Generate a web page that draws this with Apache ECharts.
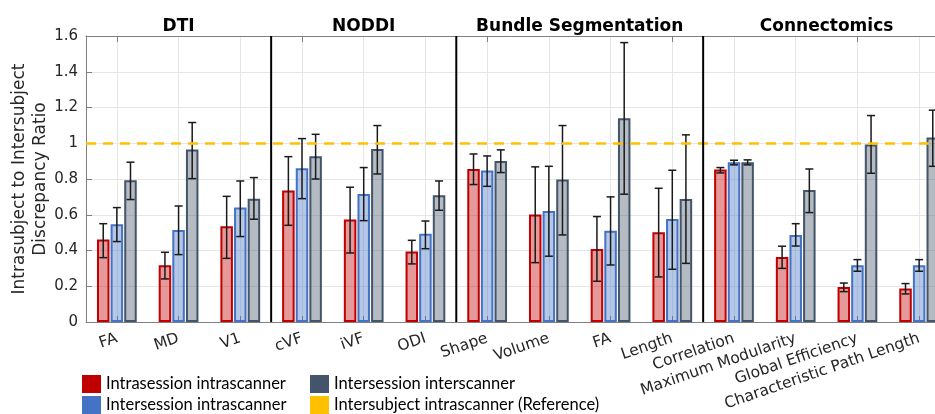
<!DOCTYPE html>
<html>
<head>
<meta charset="utf-8">
<script src="https://cdn.jsdelivr.net/npm/echarts@6/dist/echarts.min.js"></script>
<style>
  html, body { margin: 0; padding: 0; background: #ffffff; }
  #chart { width: 935px; height: 414px; }
</style>
</head>
<body>
<div id="chart"></div>
<script>
// Metrics on the x axis, grouped by analysis type
const categories = ['FA', 'MD', 'V1', 'cVF', 'iVF', 'ODI', 'Shape', 'Volume', 'FA', 'Length',
  'Correlation', 'Maximum Modularity', 'Global Efficiency', 'Characteristic Path Length'];
const groupNames = ['DTI', 'NODDI', 'Bundle Segmentation', 'Connectomics'];
const groupFirst = [0, 3, 6, 10];
const groupLast = [2, 5, 9, 13];

const seriesNames = ['Intrasession intrascanner', 'Intersession intrascanner',
  'Intersession interscanner', 'Intersubject intrascanner (Reference)'];

// Discrepancy ratios with lower / upper error bounds
const intraSessionIntraScanner = [0.461, 0.317, 0.535, 0.735, 0.573, 0.394, 0.856, 0.601, 0.409, 0.502, 0.853, 0.364, 0.196, 0.188];
const intraSessionIntraScannerLow = [0.360, 0.241, 0.356, 0.541, 0.386, 0.325, 0.769, 0.332, 0.228, 0.252, 0.834, 0.300, 0.170, 0.157];
const intraSessionIntraScannerHigh = [0.550, 0.390, 0.703, 0.925, 0.754, 0.457, 0.940, 0.868, 0.590, 0.748, 0.864, 0.424, 0.218, 0.215];

const interSessionIntraScanner = [0.547, 0.515, 0.640, 0.860, 0.716, 0.494, 0.847, 0.621, 0.511, 0.576, 0.894, 0.487, 0.317, 0.317];
const interSessionIntraScannerLow = [0.450, 0.377, 0.478, 0.690, 0.567, 0.410, 0.759, 0.368, 0.319, 0.295, 0.879, 0.425, 0.284, 0.284];
const interSessionIntraScannerHigh = [0.640, 0.649, 0.789, 1.026, 0.864, 0.565, 0.929, 0.871, 0.700, 0.849, 0.905, 0.550, 0.349, 0.349];

const interSessionInterScanner = [0.793, 0.965, 0.690, 0.927, 0.968, 0.709, 0.901, 0.797, 1.140, 0.688, 0.894, 0.739, 0.993, 1.032];
const interSessionInterScannerLow = [0.685, 0.802, 0.575, 0.800, 0.828, 0.625, 0.836, 0.487, 0.715, 0.328, 0.879, 0.612, 0.832, 0.871];
const interSessionInterScannerHigh = [0.894, 1.116, 0.808, 1.050, 1.099, 0.789, 0.963, 1.099, 1.563, 1.047, 0.907, 0.856, 1.155, 1.185];

// Intersubject reference level
const referenceLevel = 1;

// Y axis range and tick spacing
const yMin = 0;
const yMax = 1.6;
const yStep = 0.2;

// ---- styling ----
const COLORS = ['#c00000', '#4472c4', '#44546a', '#ffc000'];
const FILLS = ['rgba(192,0,0,0.4)', 'rgba(68,114,196,0.4)', 'rgba(68,84,106,0.4)'];
const BAR_W = 12.5;
const BAR_GAP = 0.09;
const AXIS_FONT = 'DejaVu Sans';
const TEXT_COLOR = '#262626';
const AXIS_COLOR = '#808080';

function barSeries(slot, values) {
  return {
    type: 'bar',
    name: seriesNames[slot],
    data: values,
    barWidth: BAR_W,
    barGap: (BAR_GAP * 100) + '%',
    itemStyle: { color: FILLS[slot], borderColor: COLORS[slot], borderWidth: 2 },
    z: 2,
    silent: true
  };
}

function errorSeries(slot, low, high) {
  return {
    type: 'custom',
    name: seriesNames[slot],
    silent: true,
    z: 4,
    data: low.map((v, i) => [i, v, high[i]]),
    encode: { x: 0, y: [1, 2] },
    renderItem(params, api) {
      const i = api.value(0);
      const pitch = BAR_W * (1 + BAR_GAP);
      const x = api.coord([i, 0])[0] + (slot - 1) * pitch;
      const yl = api.coord([i, api.value(1)])[1];
      const yh = api.coord([i, api.value(2)])[1];
      const cap = 4;
      const st = { stroke: '#1a1a1a', lineWidth: 1.5 };
      return {
        type: 'group',
        children: [
          { type: 'line', shape: { x1: x, y1: yh, x2: x, y2: yl }, style: st },
          { type: 'line', shape: { x1: x - cap, y1: yh, x2: x + cap, y2: yh }, style: st },
          { type: 'line', shape: { x1: x - cap, y1: yl, x2: x + cap, y2: yl }, style: st }
        ]
      };
    }
  };
}

// Vertical black separators between analysis groups
const separatorSeries = {
  type: 'custom',
  silent: true,
  z: 6,
  data: groupFirst.slice(1).map(k => [k, 0]),
  encode: { x: 0, y: 1 },
  renderItem(params, api) {
    const k = api.value(0);
    const x = (api.coord([k - 1, 0])[0] + api.coord([k, 0])[0]) / 2;
    const cs = params.coordSys;
    return {
      type: 'line',
      shape: { x1: x, y1: cs.y, x2: x, y2: cs.y + cs.height },
      style: { stroke: '#000000', lineWidth: 2 }
    };
  }
};

// Group headings above the plot
const headingSeries = {
  type: 'custom',
  silent: true,
  clip: false,
  z: 6,
  data: groupNames.map((n, g) => [groupFirst[g], groupLast[g], 0]),
  encode: { x: [0, 1], y: 2 },
  renderItem(params, api) {
    const x0 = api.coord([api.value(0), 0])[0];
    const x1 = api.coord([api.value(1), 0])[0];
    return {
      type: 'text',
      x: (x0 + x1) / 2,
      y: params.coordSys.y - 9,
      style: {
        text: groupNames[params.dataIndex],
        fontFamily: AXIS_FONT,
        fontWeight: 'bold',
        fontSize: 17,
        fill: '#000000',
        align: 'center',
        verticalAlign: 'middle'
      }
    };
  }
};

// Dashed intersubject reference line
const referenceSeries = {
  type: 'line',
  name: seriesNames[3],
  data: categories.map(() => null),
  itemStyle: { color: COLORS[3] },
  lineStyle: { color: COLORS[3] },
  silent: true,
  markLine: {
    silent: true,
    z: 5,
    symbol: ['none', 'none'],
    label: { show: false },
    lineStyle: { color: COLORS[3], width: 2.5, type: [10, 7] },
    data: [{ yAxis: referenceLevel }]
  }
};

const legendText = { fontFamily: 'Lato', fontSize: 16.5, color: '#000000' };
function legendItem(slot) {
  return { name: seriesNames[slot], itemStyle: { color: COLORS[slot], borderWidth: 0 } };
}

const chart = echarts.init(document.getElementById('chart'), null, { renderer: 'canvas' });
chart.setOption({
  animation: false,
  backgroundColor: '#ffffff',
  grid: { left: 86, right: -15, top: 36, bottom: 92, containLabel: false, outerBoundsMode: 'none' },
  legend: [
    {
      orient: 'vertical', left: 82, top: 375, padding: 0,
      itemWidth: 19, itemHeight: 18, itemGap: 3, icon: 'rect',
      selectedMode: false, textStyle: legendText,
      data: [legendItem(0), legendItem(1)]
    },
    {
      orient: 'vertical', left: 310, top: 375, padding: 0,
      itemWidth: 19, itemHeight: 18, itemGap: 3, icon: 'rect',
      selectedMode: false, textStyle: legendText,
      data: [legendItem(2), legendItem(3)]
    }
  ],
  xAxis: [
    {
      type: 'category',
      data: categories,
      position: 'bottom',
      axisLine: { lineStyle: { color: AXIS_COLOR, width: 1 } },
      axisTick: { show: true, inside: true, alignWithLabel: true, length: 6, lineStyle: { color: AXIS_COLOR } },
      axisLabel: {
        interval: 0, rotate: 19, margin: 16,
        fontFamily: AXIS_FONT, fontSize: 15.5, color: TEXT_COLOR
      },
      splitLine: { show: true, alignWithLabel: true, lineStyle: { color: '#e6e6e6', width: 1 } }
    },
    {
      type: 'category',
      data: categories,
      position: 'top',
      axisLine: { lineStyle: { color: AXIS_COLOR, width: 1 } },
      axisTick: { show: true, inside: true, alignWithLabel: true, length: 6, lineStyle: { color: AXIS_COLOR } },
      axisLabel: { show: false },
      splitLine: { show: false }
    }
  ],
  yAxis: {
    type: 'value',
    min: yMin, max: yMax, interval: yStep,
    name: 'Intrasubject to Intersubject\nDiscrepancy Ratio',
    nameLocation: 'middle',
    nameGap: 35,
    nameMoveOverlap: false,
    nameTextStyle: { fontFamily: AXIS_FONT, fontSize: 17, color: TEXT_COLOR, lineHeight: 21 },
    axisLine: { show: true, lineStyle: { color: AXIS_COLOR, width: 1 } },
    axisTick: { show: true, inside: true, length: 6, lineStyle: { color: AXIS_COLOR } },
    axisLabel: { fontFamily: AXIS_FONT, fontSize: 15, color: TEXT_COLOR, margin: 8 },
    splitLine: { show: true, lineStyle: { color: '#e6e6e6', width: 1 } }
  },
  series: [
    barSeries(0, intraSessionIntraScanner),
    barSeries(1, interSessionIntraScanner),
    barSeries(2, interSessionInterScanner),
    errorSeries(0, intraSessionIntraScannerLow, intraSessionIntraScannerHigh),
    errorSeries(1, interSessionIntraScannerLow, interSessionIntraScannerHigh),
    errorSeries(2, interSessionInterScannerLow, interSessionInterScannerHigh),
    referenceSeries,
    separatorSeries,
    headingSeries
  ]
});
</script>
</body>
</html>
